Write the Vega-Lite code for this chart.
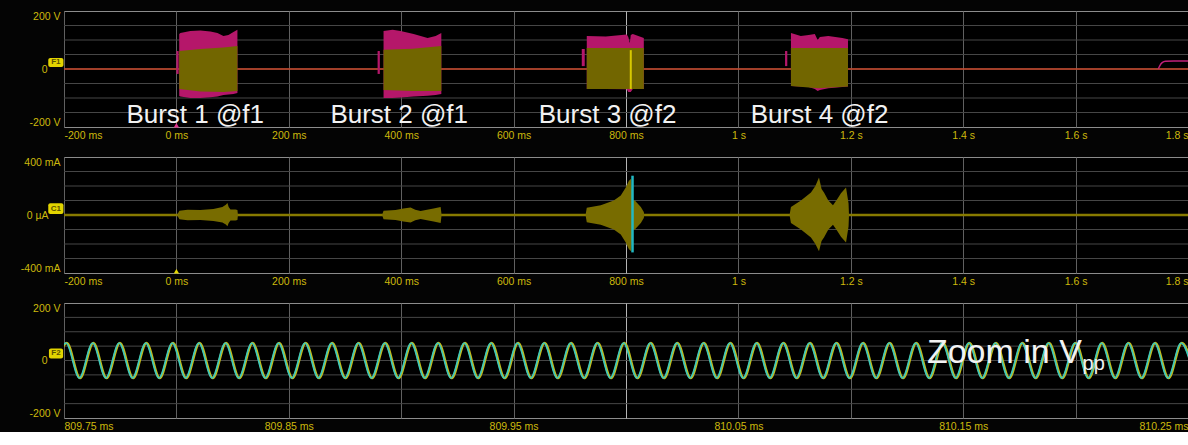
{
  "$schema": "https://vega.github.io/schema/vega-lite/v6.json",
  "background": "#040404",
  "padding": {"left": 19, "top": 10, "right": 0, "bottom": 0},
  "bounds": "flush",
  "spacing": 30,
  "config": {
    "view": {"stroke": "#8c8c8c", "strokeWidth": 1, "fill": "#000000"},
    "axis": {"domain": false, "ticks": false, "labelColor": "#cdb90c", "labelFont": "Liberation Sans", "labelFontSize": 10.5, "labelOverlap": false, "labelFlush": true, "gridWidth": 1},
    "axisX": {"labelPadding": 3},
    "axisY": {"grid": false}
  },
  "datasets": {
    "voltLevels": [{"v": -150}, {"v": -100}, {"v": -50}, {"v": 0}, {"v": 50}, {"v": 100}, {"v": 150}],
    "currentLevels": [{"v": -300}, {"v": -200}, {"v": -100}, {"v": 0}, {"v": 100}, {"v": 200}, {"v": 300}],
    "sine": [
      {"t": 809.74499, "v": -61}, {"t": 809.75089, "v": 61}, {"t": 809.7568, "v": -61}, {"t": 809.7627, "v": 61},
      {"t": 809.7686, "v": -61}, {"t": 809.77451, "v": 61}, {"t": 809.78042, "v": -61}, {"t": 809.78632, "v": 61},
      {"t": 809.79223, "v": -61}, {"t": 809.79813, "v": 61}, {"t": 809.80404, "v": -61}, {"t": 809.80994, "v": 61},
      {"t": 809.81585, "v": -61}, {"t": 809.82175, "v": 61}, {"t": 809.82766, "v": -61}, {"t": 809.83356, "v": 61},
      {"t": 809.83947, "v": -61}, {"t": 809.84537, "v": 61}, {"t": 809.85128, "v": -61}, {"t": 809.85718, "v": 61},
      {"t": 809.86309, "v": -61}, {"t": 809.86899, "v": 61}, {"t": 809.8749, "v": -61}, {"t": 809.8808, "v": 61},
      {"t": 809.88671, "v": -61}, {"t": 809.89261, "v": 61}, {"t": 809.89852, "v": -61}, {"t": 809.90442, "v": 61},
      {"t": 809.91033, "v": -61}, {"t": 809.91623, "v": 61}, {"t": 809.92214, "v": -61}, {"t": 809.92804, "v": 61},
      {"t": 809.93395, "v": -61}, {"t": 809.93985, "v": 61}, {"t": 809.94576, "v": -61}, {"t": 809.95166, "v": 61},
      {"t": 809.95757, "v": -61}, {"t": 809.96347, "v": 61}, {"t": 809.96938, "v": -61}, {"t": 809.97528, "v": 61},
      {"t": 809.98119, "v": -61}, {"t": 809.98709, "v": 61}, {"t": 809.993, "v": -61}, {"t": 809.9989, "v": 61},
      {"t": 810.00481, "v": -61}, {"t": 810.01071, "v": 61}, {"t": 810.01662, "v": -61}, {"t": 810.02252, "v": 61},
      {"t": 810.02843, "v": -61}, {"t": 810.03433, "v": 61}, {"t": 810.04024, "v": -61}, {"t": 810.04614, "v": 61},
      {"t": 810.05205, "v": -61}, {"t": 810.05795, "v": 61}, {"t": 810.06386, "v": -61}, {"t": 810.06976, "v": 61},
      {"t": 810.07567, "v": -61}, {"t": 810.08157, "v": 61}, {"t": 810.08748, "v": -61}, {"t": 810.09338, "v": 61},
      {"t": 810.09929, "v": -61}, {"t": 810.10519, "v": 61}, {"t": 810.1111, "v": -61}, {"t": 810.117, "v": 61},
      {"t": 810.12291, "v": -61}, {"t": 810.12881, "v": 61}, {"t": 810.13472, "v": -61}, {"t": 810.14062, "v": 61},
      {"t": 810.14653, "v": -61}, {"t": 810.15243, "v": 61}, {"t": 810.15834, "v": -61}, {"t": 810.16424, "v": 61},
      {"t": 810.17015, "v": -61}, {"t": 810.17605, "v": 61}, {"t": 810.18196, "v": -61}, {"t": 810.18786, "v": 61},
      {"t": 810.19377, "v": -61}, {"t": 810.19967, "v": 61}, {"t": 810.20558, "v": -61}, {"t": 810.21148, "v": 61},
      {"t": 810.21739, "v": -61}, {"t": 810.22329, "v": 61}, {"t": 810.2292, "v": -61}, {"t": 810.2351, "v": 61},
      {"t": 810.24101, "v": -61}, {"t": 810.24691, "v": 61}, {"t": 810.25282, "v": -61}
    ]
  },
  "vconcat": [
    {
      "width": 1124,
      "height": 116,
      "layer": [
        {
          "data": {"name": "voltLevels"},
          "mark": {"type": "rule", "color": "#464646", "strokeWidth": 1},
          "encoding": {
            "y": {"field": "v", "type": "quantitative", "title": null,
              "scale": {"domain": [-200, 200], "nice": false, "zero": false},
              "axis": {"values": [-200, -150, -100, -50, 0, 50, 100, 150, 200], "grid": false,
                "labelPadding": {"condition": {"test": "datum.value == 0", "value": 17}, "value": 4},
                "labelExpr": "datum.value == 200 ? '200 V' : datum.value == -200 ? '-200 V' : datum.value == 0 ? '0' : ''"}}
          }
        },
        {
          "data": {"values": [{"t": -200, "v": 0}, {"t": 1800, "v": 0}]},
          "mark": {"type": "line", "color": "#cc4a2c", "strokeWidth": 1.5},
          "encoding": {
            "x": {"field": "t", "type": "quantitative", "title": null,
              "scale": {"domain": [-200, 1800], "nice": false, "zero": false},
              "axis": {"values": [-200, 0, 200, 400, 600, 800, 1000, 1200, 1400, 1600, 1800],
                "labelExpr": "datum.value == 0 ? '0 ms' : abs(datum.value) >= 1000 ? (datum.value / 1000) + ' s' : datum.value + ' ms'",
                "gridColor": {"condition": {"test": "datum.value == 800", "value": "#b4b4b4"}, "value": "#606060"}}},
            "y": {"field": "v", "type": "quantitative", "title": null, "scale": {"domain": [-200, 200], "nice": false, "zero": false}}
          }
        },
        {
          "data": {"values": [
            {"seg": "b1pre", "t": 0, "hi": 62, "lo": -17}, {"seg": "b1pre", "t": 4, "hi": 62, "lo": -17},
            {"seg": "b1", "t": 5, "hi": 121, "lo": -93}, {"seg": "b1", "t": 7.1, "hi": 124, "lo": -95},
            {"seg": "b1", "t": 24.9, "hi": 131, "lo": -100}, {"seg": "b1", "t": 42.7, "hi": 133, "lo": -100},
            {"seg": "b1", "t": 60.5, "hi": 129, "lo": -97}, {"seg": "b1", "t": 73, "hi": 124, "lo": -95},
            {"seg": "b1", "t": 83.7, "hi": 114, "lo": -90}, {"seg": "b1", "t": 92.6, "hi": 117, "lo": -88},
            {"seg": "b1", "t": 101.5, "hi": 128, "lo": -86}, {"seg": "b1", "t": 108.6, "hi": 135, "lo": -83},
            {"seg": "b2pre", "t": 358, "hi": 62, "lo": -17}, {"seg": "b2pre", "t": 362, "hi": 62, "lo": -17},
            {"seg": "b2", "t": 368.6, "hi": 131, "lo": -100}, {"seg": "b2", "t": 384.7, "hi": 135, "lo": -100},
            {"seg": "b2", "t": 398.9, "hi": 131, "lo": -98}, {"seg": "b2", "t": 422.1, "hi": 121, "lo": -95},
            {"seg": "b2", "t": 447, "hi": 107, "lo": -92}, {"seg": "b2", "t": 461.3, "hi": 114, "lo": -90},
            {"seg": "b2", "t": 471.4, "hi": 124, "lo": -86},
            {"seg": "b3pre", "t": 721.3, "hi": 69, "lo": 10}, {"seg": "b3pre", "t": 726.6, "hi": 69, "lo": 10},
            {"seg": "b3", "t": 730.2, "hi": 114, "lo": -69}, {"seg": "b3", "t": 764.1, "hi": 112, "lo": -69},
            {"seg": "b3", "t": 801.4, "hi": 119, "lo": -70}, {"seg": "b3", "t": 804.1, "hi": 110, "lo": -79},
            {"seg": "b3", "t": 806.8, "hi": 90, "lo": -79}, {"seg": "b3", "t": 808.5, "hi": 117, "lo": -79},
            {"seg": "b3", "t": 812.1, "hi": 121, "lo": -69}, {"seg": "b3", "t": 831.7, "hi": 107, "lo": -69},
            {"seg": "b4pre", "t": 1083, "hi": 62, "lo": 10}, {"seg": "b4pre", "t": 1087, "hi": 62, "lo": 10},
            {"seg": "b4", "t": 1093.5, "hi": 124, "lo": -59}, {"seg": "b4", "t": 1111, "hi": 114, "lo": -60},
            {"seg": "b4", "t": 1125, "hi": 117, "lo": -62}, {"seg": "b4", "t": 1136, "hi": 121, "lo": -69},
            {"seg": "b4", "t": 1141, "hi": 100, "lo": -76}, {"seg": "b4", "t": 1145, "hi": 110, "lo": -72},
            {"seg": "b4", "t": 1160, "hi": 114, "lo": -66}, {"seg": "b4", "t": 1185, "hi": 107, "lo": -62},
            {"seg": "b4", "t": 1195, "hi": 103, "lo": -60}
          ]},
          "mark": {"type": "area", "color": "#b5176a", "opacity": 1},
          "encoding": {
            "x": {"field": "t", "type": "quantitative", "title": null, "scale": {"domain": [-200, 1800], "nice": false, "zero": false}},
            "y": {"field": "hi", "type": "quantitative", "title": null, "scale": {"domain": [-200, 200], "nice": false, "zero": false}},
            "y2": {"field": "lo"},
            "detail": {"field": "seg"}
          }
        },
        {
          "data": {"values": [
            {"seg": "b1", "t": 5, "hi": 62, "lo": -69}, {"seg": "b1", "t": 42.7, "hi": 69, "lo": -78},
            {"seg": "b1", "t": 83.7, "hi": 74, "lo": -79}, {"seg": "b1", "t": 108.6, "hi": 79, "lo": -76},
            {"seg": "b2", "t": 368.6, "hi": 66, "lo": -72}, {"seg": "b2", "t": 420, "hi": 70, "lo": -76},
            {"seg": "b2", "t": 471.4, "hi": 79, "lo": -76},
            {"seg": "b3", "t": 730.2, "hi": 72, "lo": -69}, {"seg": "b3", "t": 831.7, "hi": 72, "lo": -69},
            {"seg": "b4", "t": 1093.5, "hi": 72, "lo": -59}, {"seg": "b4", "t": 1141, "hi": 72, "lo": -66},
            {"seg": "b4", "t": 1195, "hi": 72, "lo": -60}
          ]},
          "mark": {"type": "area", "color": "#726600", "opacity": 1},
          "encoding": {
            "x": {"field": "t", "type": "quantitative", "title": null, "scale": {"domain": [-200, 1800], "nice": false, "zero": false}},
            "y": {"field": "hi", "type": "quantitative", "title": null, "scale": {"domain": [-200, 200], "nice": false, "zero": false}},
            "y2": {"field": "lo"},
            "detail": {"field": "seg"}
          }
        },
        {
          "data": {"values": [{"t": 808.5, "hi": 65, "lo": -69}]},
          "mark": {"type": "rule", "color": "#d8c800", "strokeWidth": 2},
          "encoding": {
            "x": {"field": "t", "type": "quantitative", "title": null, "scale": {"domain": [-200, 1800], "nice": false, "zero": false}},
            "y": {"field": "hi", "type": "quantitative", "title": null, "scale": {"domain": [-200, 200], "nice": false, "zero": false}},
            "y2": {"field": "lo"}
          }
        },
        {
          "data": {"values": [
            {"t": 1747, "v": 0}, {"t": 1750, "v": 12}, {"t": 1754, "v": 22}, {"t": 1760, "v": 27},
            {"t": 1775, "v": 28}, {"t": 1800, "v": 28}
          ]},
          "mark": {"type": "line", "color": "#c0207a", "strokeWidth": 1.5, "interpolate": "monotone"},
          "encoding": {
            "x": {"field": "t", "type": "quantitative", "title": null, "scale": {"domain": [-200, 1800], "nice": false, "zero": false}},
            "y": {"field": "v", "type": "quantitative", "title": null, "scale": {"domain": [-200, 200], "nice": false, "zero": false}}
          }
        },
        {
          "data": {"values": [
            {"t": -89, "v": -186, "label": "Burst 1 @f1"},
            {"t": 274, "v": -186, "label": "Burst 2 @f1"},
            {"t": 644.7, "v": -186, "label": "Burst 3 @f2"},
            {"t": 1022, "v": -186, "label": "Burst 4 @f2"}
          ]},
          "mark": {"type": "text", "align": "left", "baseline": "alphabetic", "font": "Liberation Sans", "fontSize": 26, "color": "#f2f2f2"},
          "encoding": {
            "x": {"field": "t", "type": "quantitative", "title": null, "scale": {"domain": [-200, 1800], "nice": false, "zero": false}},
            "y": {"field": "v", "type": "quantitative", "title": null, "scale": {"domain": [-200, 200], "nice": false, "zero": false}},
            "text": {"field": "label"}
          }
        },
        {
          "data": {"values": [{"id": "F1"}]},
          "mark": {"type": "rect", "color": "#e2d400", "cornerRadius": 2},
          "encoding": {
            "x": {"datum": -228, "type": "quantitative", "scale": {"domain": [-200, 1800], "nice": false, "zero": false}},
            "x2": {"datum": -201},
            "y": {"datum": 38, "type": "quantitative", "scale": {"domain": [-200, 200], "nice": false, "zero": false}},
            "y2": {"datum": 7}
          }
        },
        {
          "data": {"values": [{"id": "F1"}]},
          "mark": {"type": "text", "font": "Liberation Sans", "fontSize": 8, "fontWeight": "bold", "color": "#5a5200"},
          "encoding": {
            "x": {"datum": -214.5, "type": "quantitative", "scale": {"domain": [-200, 1800], "nice": false, "zero": false}},
            "y": {"datum": 22.5, "type": "quantitative", "scale": {"domain": [-200, 200], "nice": false, "zero": false}},
            "text": {"field": "id"}
          }
        },
        {
          "data": {"values": [{"t": 0, "v": -194}]},
          "mark": {"type": "point", "shape": "triangle-up", "filled": true, "size": 28, "color": "#e0308a", "opacity": 1},
          "encoding": {
            "x": {"field": "t", "type": "quantitative", "title": null, "scale": {"domain": [-200, 1800], "nice": false, "zero": false}},
            "y": {"field": "v", "type": "quantitative", "title": null, "scale": {"domain": [-200, 200], "nice": false, "zero": false}}
          }
        }
      ]
    },
    {
      "width": 1124,
      "height": 116,
      "layer": [
        {
          "data": {"name": "currentLevels"},
          "mark": {"type": "rule", "color": "#464646", "strokeWidth": 1},
          "encoding": {
            "y": {"field": "v", "type": "quantitative", "title": null,
              "scale": {"domain": [-400, 400], "nice": false, "zero": false},
              "axis": {"values": [-400, -300, -200, -100, 0, 100, 200, 300, 400], "grid": false,
                "labelPadding": {"condition": {"test": "datum.value == 0", "value": 16}, "value": 4},
                "labelExpr": "datum.value == 400 ? '400 mA' : datum.value == -400 ? '-400 mA' : datum.value == 0 ? '0 µA' : ''"}}
          }
        },
        {
          "data": {"values": [{"t": -200, "v": 0}, {"t": 1800, "v": 0}]},
          "mark": {"type": "line", "color": "#877a00", "strokeWidth": 2.5},
          "encoding": {
            "x": {"field": "t", "type": "quantitative", "title": null,
              "scale": {"domain": [-200, 1800], "nice": false, "zero": false},
              "axis": {"values": [-200, 0, 200, 400, 600, 800, 1000, 1200, 1400, 1600, 1800],
                "labelExpr": "datum.value == 0 ? '0 ms' : abs(datum.value) >= 1000 ? (datum.value / 1000) + ' s' : datum.value + ' ms'",
                "gridColor": {"condition": {"test": "datum.value == 800", "value": "#b4b4b4"}, "value": "#606060"}}},
            "y": {"field": "v", "type": "quantitative", "title": null, "scale": {"domain": [-400, 400], "nice": false, "zero": false}}
          }
        },
        {
          "data": {"values": [
            {"seg": "b1", "t": 1.2, "hi": 0, "lo": 0}, {"seg": "b1", "t": 5.3, "hi": 30, "lo": -30},
            {"seg": "b1", "t": 20, "hi": 36, "lo": -36}, {"seg": "b1", "t": 42.7, "hi": 34, "lo": -34},
            {"seg": "b1", "t": 65.9, "hi": 42, "lo": -42}, {"seg": "b1", "t": 81.9, "hi": 55, "lo": -52},
            {"seg": "b1", "t": 88, "hi": 70, "lo": -65}, {"seg": "b1", "t": 90.8, "hi": 82, "lo": -78},
            {"seg": "b1", "t": 93, "hi": 55, "lo": -55}, {"seg": "b1", "t": 96.2, "hi": 38, "lo": -38},
            {"seg": "b1", "t": 105, "hi": 38, "lo": -38}, {"seg": "b1", "t": 108.6, "hi": 35, "lo": -35},
            {"seg": "b1", "t": 109.5, "hi": 0, "lo": 0},
            {"seg": "b2", "t": 366, "hi": 0, "lo": 0}, {"seg": "b2", "t": 368.6, "hi": 30, "lo": -30},
            {"seg": "b2", "t": 390, "hi": 34, "lo": -34}, {"seg": "b2", "t": 404, "hi": 45, "lo": -45},
            {"seg": "b2", "t": 416.7, "hi": 52, "lo": -52}, {"seg": "b2", "t": 425, "hi": 36, "lo": -36},
            {"seg": "b2", "t": 434.5, "hi": 27, "lo": -27}, {"seg": "b2", "t": 446, "hi": 36, "lo": -36},
            {"seg": "b2", "t": 457.7, "hi": 45, "lo": -45}, {"seg": "b2", "t": 470.2, "hi": 56, "lo": -56},
            {"seg": "b2", "t": 471.9, "hi": 0, "lo": 0},
            {"seg": "b3", "t": 728, "hi": 0, "lo": 0}, {"seg": "b3", "t": 730.2, "hi": 50, "lo": -50},
            {"seg": "b3", "t": 755.1, "hi": 68, "lo": -68}, {"seg": "b3", "t": 778.3, "hi": 100, "lo": -100},
            {"seg": "b3", "t": 790.7, "hi": 135, "lo": -135}, {"seg": "b3", "t": 799.6, "hi": 190, "lo": -190},
            {"seg": "b3", "t": 805, "hi": 235, "lo": -235}, {"seg": "b3", "t": 809, "hi": 250, "lo": -250},
            {"seg": "b3", "t": 812, "hi": 100, "lo": -100}, {"seg": "b3", "t": 815.7, "hi": 100, "lo": -100},
            {"seg": "b3", "t": 826.4, "hi": 55, "lo": -55}, {"seg": "b3", "t": 831.7, "hi": 20, "lo": -20},
            {"seg": "b3", "t": 832.5, "hi": 0, "lo": 0},
            {"seg": "b4", "t": 1091, "hi": 0, "lo": 0}, {"seg": "b4", "t": 1093.5, "hi": 55, "lo": -55},
            {"seg": "b4", "t": 1111.3, "hi": 100, "lo": -100}, {"seg": "b4", "t": 1129.1, "hi": 156, "lo": -156},
            {"seg": "b4", "t": 1137, "hi": 200, "lo": -200}, {"seg": "b4", "t": 1143.4, "hi": 258, "lo": -250},
            {"seg": "b4", "t": 1148, "hi": 180, "lo": -180}, {"seg": "b4", "t": 1152.3, "hi": 156, "lo": -156},
            {"seg": "b4", "t": 1160, "hi": 100, "lo": -100}, {"seg": "b4", "t": 1168.3, "hi": 68, "lo": -68},
            {"seg": "b4", "t": 1176, "hi": 110, "lo": -110}, {"seg": "b4", "t": 1182.5, "hi": 150, "lo": -150},
            {"seg": "b4", "t": 1191.5, "hi": 190, "lo": -190}, {"seg": "b4", "t": 1196, "hi": 80, "lo": -80},
            {"seg": "b4", "t": 1196.8, "hi": 0, "lo": 0}
          ]},
          "mark": {"type": "area", "color": "#786c00", "opacity": 1},
          "encoding": {
            "x": {"field": "t", "type": "quantitative", "title": null, "scale": {"domain": [-200, 1800], "nice": false, "zero": false}},
            "y": {"field": "hi", "type": "quantitative", "title": null, "scale": {"domain": [-400, 400], "nice": false, "zero": false}},
            "y2": {"field": "lo"},
            "detail": {"field": "seg"}
          }
        },
        {
          "data": {"values": [{"t": 811.6, "hi": 271, "lo": -258}]},
          "mark": {"type": "rule", "color": "#22b8c2", "strokeWidth": 2.5},
          "encoding": {
            "x": {"field": "t", "type": "quantitative", "title": null, "scale": {"domain": [-200, 1800], "nice": false, "zero": false}},
            "y": {"field": "hi", "type": "quantitative", "title": null, "scale": {"domain": [-400, 400], "nice": false, "zero": false}},
            "y2": {"field": "lo"}
          }
        },
        {
          "data": {"values": [{"id": "C1"}]},
          "mark": {"type": "rect", "color": "#e2d400", "cornerRadius": 2},
          "encoding": {
            "x": {"datum": -228, "type": "quantitative", "scale": {"domain": [-200, 1800], "nice": false, "zero": false}},
            "x2": {"datum": -201},
            "y": {"datum": 81, "type": "quantitative", "scale": {"domain": [-400, 400], "nice": false, "zero": false}},
            "y2": {"datum": 7}
          }
        },
        {
          "data": {"values": [{"id": "C1"}]},
          "mark": {"type": "text", "font": "Liberation Sans", "fontSize": 8, "fontWeight": "bold", "color": "#5a5200"},
          "encoding": {
            "x": {"datum": -214.5, "type": "quantitative", "scale": {"domain": [-200, 1800], "nice": false, "zero": false}},
            "y": {"datum": 44, "type": "quantitative", "scale": {"domain": [-400, 400], "nice": false, "zero": false}},
            "text": {"field": "id"}
          }
        },
        {
          "data": {"values": [{"t": 0, "v": -388}]},
          "mark": {"type": "point", "shape": "triangle-up", "filled": true, "size": 28, "color": "#e6d800", "opacity": 1},
          "encoding": {
            "x": {"field": "t", "type": "quantitative", "title": null, "scale": {"domain": [-200, 1800], "nice": false, "zero": false}},
            "y": {"field": "v", "type": "quantitative", "title": null, "scale": {"domain": [-400, 400], "nice": false, "zero": false}}
          }
        }
      ]
    },
    {
      "width": 1124,
      "height": 115,
      "layer": [
        {
          "data": {"name": "voltLevels"},
          "mark": {"type": "rule", "color": "#464646", "strokeWidth": 1},
          "encoding": {
            "y": {"field": "v", "type": "quantitative", "title": null,
              "scale": {"domain": [-200, 200], "nice": false, "zero": false},
              "axis": {"values": [-200, -150, -100, -50, 0, 50, 100, 150, 200], "grid": false,
                "labelPadding": {"condition": {"test": "datum.value == 0", "value": 17}, "value": 4},
                "labelExpr": "datum.value == 200 ? '200 V' : datum.value == -200 ? '-200 V' : datum.value == 0 ? '0' : ''"}}
          }
        },
        {
          "data": {"name": "sine"},
          "mark": {"type": "line", "color": "#c4ba18", "strokeWidth": 2.4, "interpolate": "monotone", "clip": true, "xOffset": 0.8},
          "encoding": {
            "x": {"field": "t", "type": "quantitative", "title": null,
              "scale": {"domain": [809.75, 810.25], "nice": false, "zero": false},
              "axis": {"values": [809.75, 809.8, 809.85, 809.9, 809.95, 810, 810.05, 810.1, 810.15, 810.2, 810.25],
                "labelExpr": "round(datum.value * 100) % 10 == 5 ? format(datum.value, '.2f') + ' ms' : ''",
                "gridColor": {"condition": {"test": "abs(datum.value - 810) < 0.001", "value": "#b4b4b4"}, "value": "#606060"}}},
            "y": {"field": "v", "type": "quantitative", "title": null, "scale": {"domain": [-200, 200], "nice": false, "zero": false}}
          }
        },
        {
          "data": {"name": "sine"},
          "mark": {"type": "line", "color": "#3cc8bc", "strokeWidth": 1.6, "interpolate": "monotone", "clip": true},
          "encoding": {
            "x": {"field": "t", "type": "quantitative", "title": null, "scale": {"domain": [809.75, 810.25], "nice": false, "zero": false}},
            "y": {"field": "v", "type": "quantitative", "title": null, "scale": {"domain": [-200, 200], "nice": false, "zero": false}}
          }
        },
        {
          "data": {"values": [{"t": 810.2028, "v": -7, "label": "Zoom in V"}]},
          "mark": {"type": "text", "align": "right", "baseline": "alphabetic", "font": "Liberation Sans", "fontSize": 34, "color": "#f2f2f2"},
          "encoding": {
            "x": {"field": "t", "type": "quantitative", "title": null, "scale": {"domain": [809.75, 810.25], "nice": false, "zero": false}},
            "y": {"field": "v", "type": "quantitative", "title": null, "scale": {"domain": [-200, 200], "nice": false, "zero": false}},
            "text": {"field": "label"}
          }
        },
        {
          "data": {"values": [{"t": 810.2031, "v": -34, "label": "pp"}]},
          "mark": {"type": "text", "align": "left", "baseline": "alphabetic", "font": "Liberation Sans", "fontSize": 20, "color": "#f2f2f2"},
          "encoding": {
            "x": {"field": "t", "type": "quantitative", "title": null, "scale": {"domain": [809.75, 810.25], "nice": false, "zero": false}},
            "y": {"field": "v", "type": "quantitative", "title": null, "scale": {"domain": [-200, 200], "nice": false, "zero": false}},
            "text": {"field": "label"}
          }
        },
        {
          "data": {"values": [{"id": "F2"}]},
          "mark": {"type": "rect", "color": "#e2d400", "cornerRadius": 2},
          "encoding": {
            "x": {"datum": 809.7433, "type": "quantitative", "scale": {"domain": [809.75, 810.25], "nice": false, "zero": false}},
            "x2": {"datum": 809.7496},
            "y": {"datum": 42, "type": "quantitative", "scale": {"domain": [-200, 200], "nice": false, "zero": false}},
            "y2": {"datum": 7}
          }
        },
        {
          "data": {"values": [{"id": "F2"}]},
          "mark": {"type": "text", "font": "Liberation Sans", "fontSize": 8, "fontWeight": "bold", "color": "#5a5200"},
          "encoding": {
            "x": {"datum": 809.74645, "type": "quantitative", "scale": {"domain": [809.75, 810.25], "nice": false, "zero": false}},
            "y": {"datum": 24.5, "type": "quantitative", "scale": {"domain": [-200, 200], "nice": false, "zero": false}},
            "text": {"field": "id"}
          }
        }
      ]
    }
  ]
}
